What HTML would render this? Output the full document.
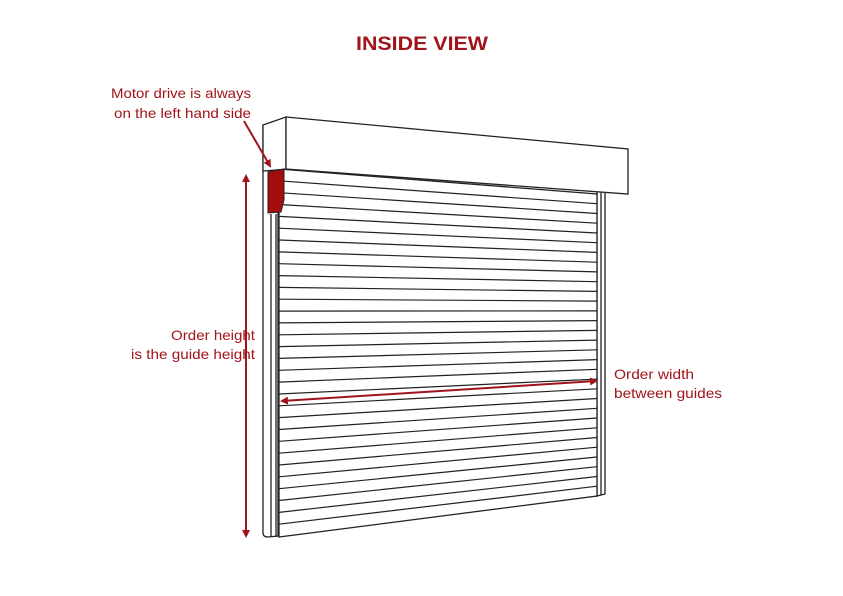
<!DOCTYPE html>
<html><head><meta charset="utf-8"><style>
html,body{margin:0;padding:0;background:#fff;}
svg{display:block;}
text{font-family:"Liberation Sans",sans-serif;fill:#a0141a;}
</style></head><body>
<svg width="843" height="596" viewBox="0 0 843 596" xmlns="http://www.w3.org/2000/svg">
<defs>
<marker id="ah" markerWidth="8" markerHeight="8" refX="6" refY="4" orient="auto" markerUnits="userSpaceOnUse"><path d="M0,0 L8,4 L0,8 Z" fill="#a0141a"/></marker>
</defs>
<text x="422" y="50" font-size="19" font-weight="bold" text-anchor="middle" textLength="132" lengthAdjust="spacingAndGlyphs">INSIDE VIEW</text>
<text x="251" y="98" font-size="14" text-anchor="end" textLength="140" lengthAdjust="spacingAndGlyphs">Motor drive is always</text>
<text x="251" y="118" font-size="14" text-anchor="end" textLength="137" lengthAdjust="spacingAndGlyphs">on the left hand side</text>
<text x="255" y="340" font-size="14" text-anchor="end" textLength="84" lengthAdjust="spacingAndGlyphs">Order height</text>
<text x="255" y="359" font-size="14" text-anchor="end" textLength="124" lengthAdjust="spacingAndGlyphs">is the guide height</text>
<text x="614" y="379" font-size="14" textLength="80" lengthAdjust="spacingAndGlyphs">Order width</text>
<text x="614" y="398" font-size="14" textLength="108" lengthAdjust="spacingAndGlyphs">between guides</text>

<g stroke="#222" stroke-width="1.3" fill="#fff">
<!-- left guide -->
<path d="M263,125 L263,534 Q264,537 268,537 L278,536 L278,180 L276,170 Z"/>
<line x1="271" y1="214" x2="271" y2="537"/>
<line x1="276" y1="214" x2="276" y2="537"/>
<!-- right guide -->
<path d="M597,185 L605,185 L605,494 L597,496 Z"/>
<line x1="601" y1="192" x2="601" y2="495"/>
<!-- curtain -->
<path d="M279,169 L597,194 L597,496 L279,537 Z"/>
<!-- box side -->
<path d="M263,125 L286,117 L286,169 L276,170 L263,171 Z"/>
<!-- box front -->
<path d="M286,117 L628,149 L628,194 L286,169 Z"/>
</g>
<g stroke="#222" stroke-width="1.2">
<line x1="279" y1="180.8" x2="597" y2="203.7"/>
<line x1="279" y1="192.7" x2="597" y2="213.5"/>
<line x1="279" y1="204.5" x2="597" y2="223.2"/>
<line x1="279" y1="216.4" x2="597" y2="233.0"/>
<line x1="279" y1="228.2" x2="597" y2="242.7"/>
<line x1="279" y1="240.0" x2="597" y2="252.4"/>
<line x1="279" y1="251.9" x2="597" y2="262.2"/>
<line x1="279" y1="263.7" x2="597" y2="271.9"/>
<line x1="279" y1="275.6" x2="597" y2="281.7"/>
<line x1="279" y1="287.4" x2="597" y2="291.4"/>
<line x1="279" y1="299.2" x2="597" y2="301.1"/>
<line x1="279" y1="311.1" x2="597" y2="310.9"/>
<line x1="279" y1="322.9" x2="597" y2="320.6"/>
<line x1="279" y1="334.8" x2="597" y2="330.4"/>
<line x1="279" y1="346.6" x2="597" y2="340.1"/>
<line x1="279" y1="358.4" x2="597" y2="349.8"/>
<line x1="279" y1="370.3" x2="597" y2="359.6"/>
<line x1="279" y1="382.1" x2="597" y2="369.3"/>
<line x1="279" y1="394.0" x2="597" y2="379.1"/>
<line x1="279" y1="405.8" x2="597" y2="388.8"/>
<line x1="279" y1="417.6" x2="597" y2="398.5"/>
<line x1="279" y1="429.5" x2="597" y2="408.3"/>
<line x1="279" y1="441.3" x2="597" y2="418.0"/>
<line x1="279" y1="453.2" x2="597" y2="427.8"/>
<line x1="279" y1="465.0" x2="597" y2="437.5"/>
<line x1="279" y1="476.8" x2="597" y2="447.2"/>
<line x1="279" y1="488.7" x2="597" y2="457.0"/>
<line x1="279" y1="500.5" x2="597" y2="466.7"/>
<line x1="279" y1="512.4" x2="597" y2="476.5"/>
<line x1="279" y1="524.2" x2="597" y2="486.2"/>
</g>
<!-- motor -->
<path d="M268,172 L284,169 L284,200 L281,212 L268,213 Z" fill="#a30d0d" stroke="#222" stroke-width="1"/>
<!-- arrows -->
<g stroke="#a0141a" stroke-width="2" fill="none">
<line x1="244" y1="121" x2="270" y2="166" marker-end="url(#ah)"/>
<line x1="246" y1="300" x2="246" y2="176" marker-end="url(#ah)"/>
<line x1="246" y1="300" x2="246" y2="536" marker-end="url(#ah)"/>
<line x1="440" y1="391" x2="282" y2="401" marker-end="url(#ah)"/>
<line x1="440" y1="391" x2="596" y2="381" marker-end="url(#ah)"/>
</g>
</svg>
</body></html>
